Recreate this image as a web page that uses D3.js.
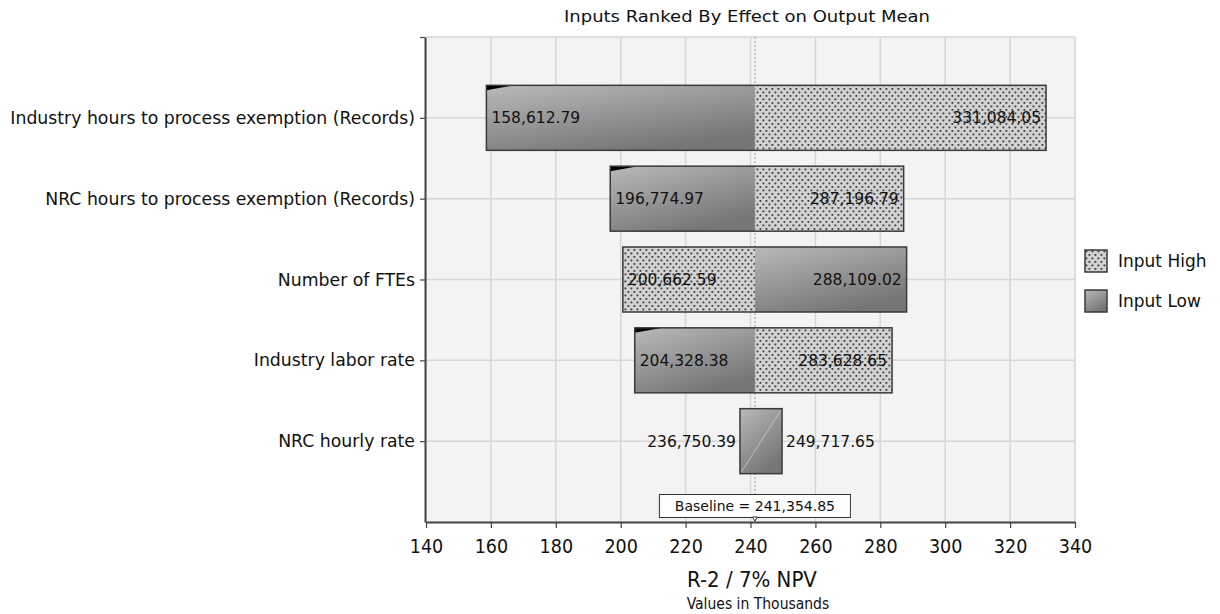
<!DOCTYPE html>
<html>
<head>
<meta charset="utf-8">
<script src="https://cdn.jsdelivr.net/npm/d3@7"></script>
<style>
  html, body { margin: 0; padding: 0; background: #ffffff; }
  svg { display: block; font-family: "DejaVu Sans", Verdana, sans-serif; }
</style>
</head>
<body>
<svg id="chart" width="1220" height="614"></svg>
<script>
// Tornado chart: output mean for each input at its low and high setting
const categories = [
  "Industry hours to process exemption (Records)",
  "NRC hours to process exemption (Records)",
  "Number of FTEs",
  "Industry labor rate",
  "NRC hourly rate"
];
// output mean (in dollars) when the input is at its low value
const lowOutputs  = [158612.79, 196774.97, 288109.02, 204328.38, 236750.39];
// output mean (in dollars) when the input is at its high value
const highOutputs = [331084.05, 287196.79, 200662.59, 283628.65, 249717.65];
const baseline = 241354.85;
const xTicks = [140, 160, 180, 200, 220, 240, 260, 280, 300, 320, 340];
const legendLabels = ["Input High", "Input Low"];

const FONT = "'DejaVu Sans', Verdana, sans-serif";
const FONT_COND = "'DejaVu Sans Condensed', 'DejaVu Sans', sans-serif";

const svg = d3.select("#chart");
const plot = { left: 426, right: 1075, top: 37, bottom: 522 };

const x = d3.scaleLinear().domain([140, 340]).range([plot.left, plot.right]);
const y = d3.scaleLinear().domain([0, categories.length + 1]).range([plot.top, plot.bottom]);
const barH = 65;
const k = v => v / 1000;           // dollars -> thousands
const fmt = d3.format(",.2f");

// ---- fills -------------------------------------------------------------
const defs = svg.append("defs");
const grad = defs.append("linearGradient")
  .attr("id", "lowFill").attr("x1", 0).attr("y1", 0).attr("x2", 0.55).attr("y2", 1);
grad.append("stop").attr("offset", "0%").attr("stop-color", "#b9b9b9");
grad.append("stop").attr("offset", "100%").attr("stop-color", "#767676");

const pat = defs.append("pattern")
  .attr("id", "highFill").attr("patternUnits", "userSpaceOnUse")
  .attr("width", 6).attr("height", 7);
pat.append("rect").attr("width", 6).attr("height", 7).attr("fill", "#d2d2d2");
pat.append("rect").attr("x", 0.5).attr("y", 0.5).attr("width", 1.8).attr("height", 1.8).attr("fill", "#3c3c3c");
pat.append("rect").attr("x", 3.5).attr("y", 4).attr("width", 1.8).attr("height", 1.8).attr("fill", "#3c3c3c");

// ---- plot background and grid -------------------------------------------
svg.append("rect")
  .attr("x", plot.left).attr("y", plot.top)
  .attr("width", plot.right - plot.left).attr("height", plot.bottom - plot.top)
  .attr("fill", "#f3f3f3");

svg.append("g").selectAll("line").data(xTicks).join("line")
  .attr("x1", d => x(d)).attr("x2", d => x(d))
  .attr("y1", plot.top).attr("y2", plot.bottom)
  .attr("stroke", "#d6d6d6").attr("stroke-width", 1.5);

svg.append("g").selectAll("line").data(d3.range(0, categories.length + 1)).join("line")
  .attr("x1", plot.left).attr("x2", plot.right)
  .attr("y1", d => y(d)).attr("y2", d => y(d))
  .attr("stroke", "#d6d6d6").attr("stroke-width", 1.5);

// baseline marker line
svg.append("line")
  .attr("x1", x(k(baseline))).attr("x2", x(k(baseline)))
  .attr("y1", plot.top).attr("y2", plot.bottom)
  .attr("stroke", "#a8a8a8").attr("stroke-width", 1.2)
  .attr("stroke-dasharray", "2,2");

// ---- bars ----------------------------------------------------------------
const rows = categories.map((c, i) => ({
  name: c, i, low: k(lowOutputs[i]), high: k(highOutputs[i]), base: k(baseline)
}));

const barG = svg.append("g");
rows.forEach(r => {
  const yc = y(r.i + 1);
  const y0 = yc - barH / 2;
  const minV = Math.min(r.low, r.high), maxV = Math.max(r.low, r.high);
  const narrow = x(maxV) - x(minV) < 60;

  if (narrow) {
    // short swing: one shaded block across the whole range
    barG.append("rect")
      .attr("x", x(minV)).attr("y", y0)
      .attr("width", x(maxV) - x(minV)).attr("height", barH)
      .attr("fill", "url(#lowFill)");
    barG.append("line")
      .attr("x1", x(minV) + 1).attr("y1", y0 + barH - 1)
      .attr("x2", x(maxV) - 1).attr("y2", y0 + 1)
      .attr("stroke", "#e2e2e2").attr("stroke-width", 0.8).attr("opacity", 0.7);
  } else {
    const segs = [
      { a: r.high, type: "high" },
      { a: r.low, type: "low" }
    ];
    segs.forEach(s => {
      const sx = Math.min(s.a, r.base), ex = Math.max(s.a, r.base);
      barG.append("rect")
        .attr("x", x(sx)).attr("y", y0)
        .attr("width", x(ex) - x(sx)).attr("height", barH)
        .attr("fill", s.type === "high" ? "url(#highFill)" : "url(#lowFill)");
      if (s.type === "low" && s.a < r.base) {
        // dark corner sliver at the outer end of the shaded half
        const cx = x(sx);
        barG.append("path")
          .attr("d", `M${cx},${y0} L${cx + 28},${y0} L${cx},${y0 + 5} Z`)
          .attr("fill", "#000");
      }
    });
  }
  barG.append("rect")
    .attr("x", x(minV)).attr("y", y0)
    .attr("width", x(maxV) - x(minV)).attr("height", barH)
    .attr("fill", "none").attr("stroke", "#3a3a3a").attr("stroke-width", 1.5);

  // value labels
  const leftTxt = fmt(Math.min(lowOutputs[r.i], highOutputs[r.i]));
  const rightTxt = fmt(Math.max(lowOutputs[r.i], highOutputs[r.i]));
  barG.append("text")
    .attr("x", narrow ? x(minV) - 4 : x(minV) + 5)
    .attr("y", yc).attr("dy", "0.36em")
    .attr("text-anchor", narrow ? "end" : "start")
    .attr("font-size", 15.5).attr("fill", "#111")
    .text(leftTxt);
  barG.append("text")
    .attr("x", narrow ? x(maxV) + 4 : x(maxV) - 5)
    .attr("y", yc).attr("dy", "0.36em")
    .attr("text-anchor", narrow ? "start" : "end")
    .attr("font-size", 15.5).attr("fill", "#111")
    .text(rightTxt);
});

// ---- axes ----------------------------------------------------------------
const xAxis = svg.append("g")
  .attr("transform", `translate(0,${plot.bottom})`)
  .call(d3.axisBottom(x).tickValues(xTicks).tickSize(6).tickPadding(11).tickSizeOuter(0));
xAxis.attr("font-family", FONT_COND);
xAxis.select(".domain").attr("stroke", "#444").attr("stroke-width", 2);
xAxis.selectAll(".tick line").attr("stroke", "#444").attr("stroke-width", 1.2);
xAxis.selectAll(".tick text")
  .attr("font-size", 19.5).attr("fill", "#111");

const yAxis = svg.append("g")
  .attr("transform", `translate(${plot.left - 1},0)`)
  .call(d3.axisLeft(y)
    .tickValues(d3.range(0, categories.length + 1))
    .tickFormat(d => d === 0 ? "" : categories[d - 1])
    .tickSize(5).tickPadding(5).tickSizeOuter(0));
yAxis.attr("font-family", FONT);
yAxis.select(".domain").attr("stroke", "#444").attr("stroke-width", 2);
yAxis.selectAll(".tick line").attr("stroke", "#444").attr("stroke-width", 1.2);
yAxis.selectAll(".tick text").attr("font-size", 17.3).attr("fill", "#111");

// ---- baseline label --------------------------------------------------------
const bx = x(k(baseline));
svg.append("rect")
  .attr("x", bx - 95.5).attr("y", 494.5).attr("width", 191).attr("height", 23)
  .attr("fill", "#fff").attr("stroke", "#333").attr("stroke-width", 1);
svg.append("text")
  .attr("x", bx).attr("y", 506).attr("dy", "0.36em")
  .attr("text-anchor", "middle").attr("font-size", 14).attr("fill", "#111")
  .text("Baseline = " + fmt(baseline));
svg.append("path")
  .attr("d", `M${bx - 2.5},${plot.bottom - 5} L${bx + 2.5},${plot.bottom - 5} L${bx},${plot.bottom - 1} Z`)
  .attr("fill", "#fff").attr("stroke", "#333").attr("stroke-width", 1);

// ---- titles ----------------------------------------------------------------
svg.append("text")
  .attr("x", 747).attr("y", 22)
  .attr("text-anchor", "middle").attr("font-size", 16).attr("fill", "#111")
  .attr("textLength", 366).attr("lengthAdjust", "spacingAndGlyphs")
  .text("Inputs Ranked By Effect on Output Mean");
svg.append("text")
  .attr("x", 752).attr("y", 587)
  .attr("text-anchor", "middle").attr("font-size", 22).attr("fill", "#111")
  .attr("font-family", FONT_COND)
  .text("R-2 / 7% NPV");
svg.append("text")
  .attr("x", 758).attr("y", 609)
  .attr("text-anchor", "middle").attr("font-size", 15.5).attr("fill", "#111")
  .attr("font-family", FONT_COND)
  .text("Values in Thousands");

// ---- legend ----------------------------------------------------------------
const legend = svg.append("g").attr("transform", "translate(1085,250)");
legendLabels.forEach((lab, i) => {
  const g = legend.append("g").attr("transform", `translate(0,${i * 40})`);
  g.append("rect").attr("width", 22).attr("height", 22)
    .attr("fill", i === 0 ? "url(#highFill)" : "url(#lowFill)")
    .attr("stroke", "#3a3a3a").attr("stroke-width", 1.5);
  g.append("text").attr("x", 33).attr("y", 11).attr("dy", "0.36em")
    .attr("font-size", 17).attr("fill", "#111").text(lab);
});
</script>
</body>
</html>
